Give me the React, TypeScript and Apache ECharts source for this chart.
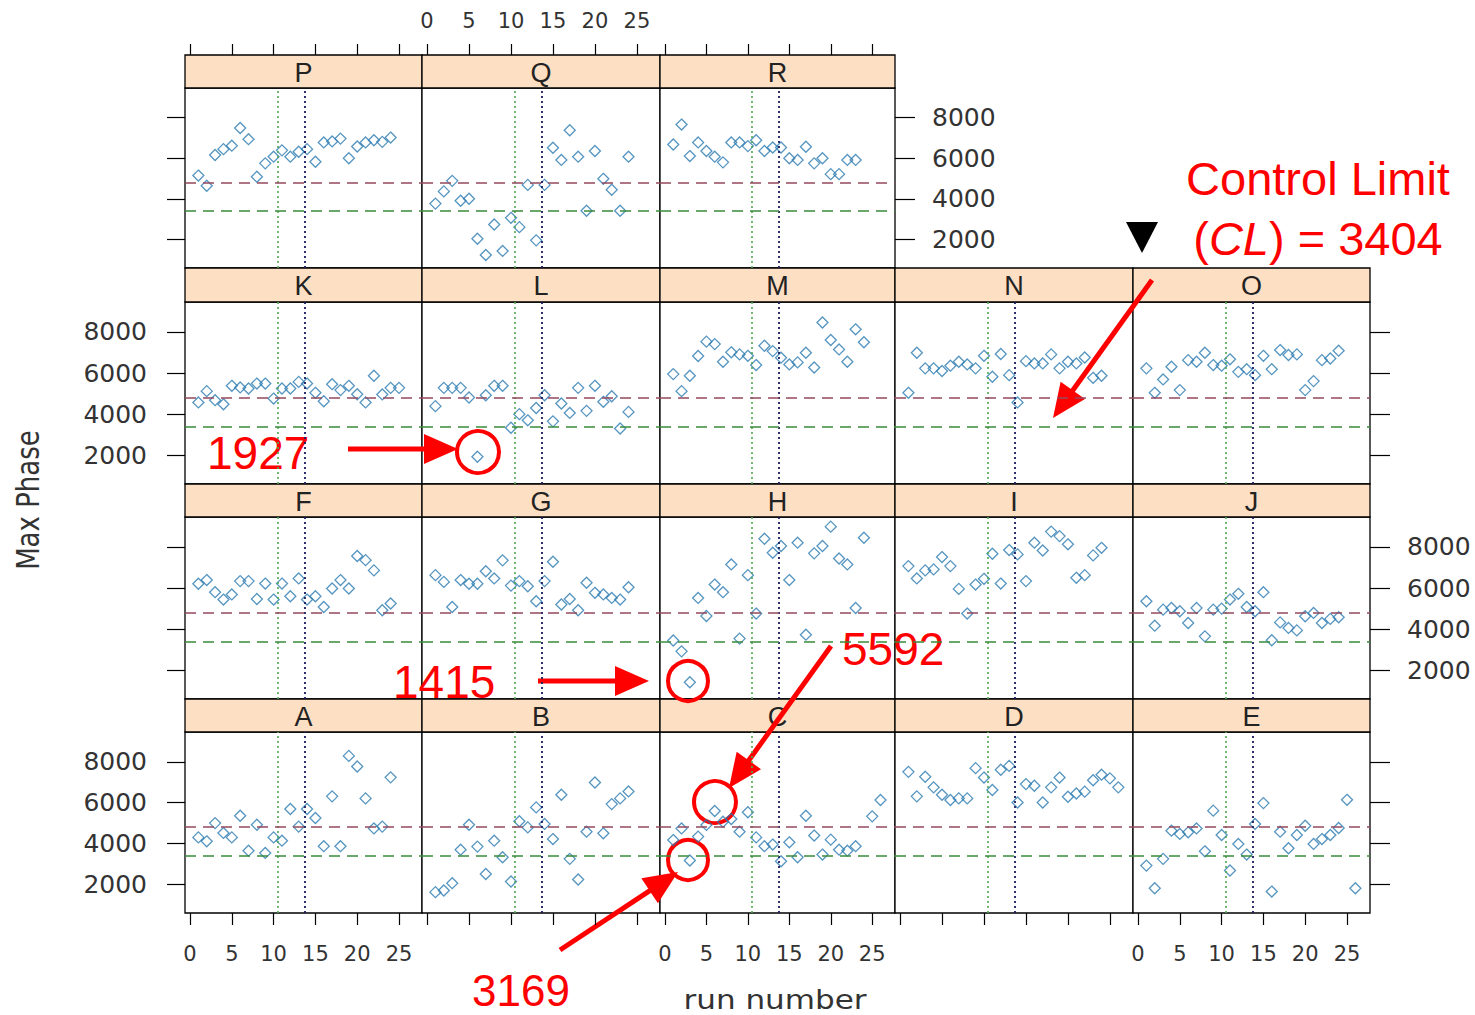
import React, { useEffect, useRef } from "react";
import * as echarts from "echarts";

// ---- data: [run number, max phase] per panel ----
const P: number[][] = [[1,5150],[2,4650],[3,6160],[4,6450],[5,6620],[6,7490],[7,6940],[8,5090],[9,5750],[10,6080],[11,6390],[12,6080],[13,6320],[14,6450],[15,5830],[16,6780],[17,6830],[18,6970],[19,6000],[20,6580],[21,6780],[22,6890],[23,6810],[24,7020]];
const Q: number[][] = [[1,3770],[2,4370],[3,4890],[4,3910],[5,4010],[6,2040],[7,1240],[8,2740],[9,1440],[10,3070],[11,2610],[12,4690],[13,1960],[14,4690],[15,6520],[16,5920],[17,7380],[18,6080],[19,3420],[20,6360],[21,4990],[22,4450],[23,3420],[24,6080]];
const R: number[][] = [[1,6680],[2,7660],[3,6110],[4,6780],[5,6360],[6,6080],[7,5800],[8,6780],[9,6780],[10,6600],[11,6890],[12,6360],[13,6530],[14,6530],[15,6000],[16,5920],[17,6570],[18,5750],[19,6000],[20,5220],[21,5220],[22,5920],[23,5920]];
const K: number[][] = [[1,4570],[2,5120],[3,4680],[4,4480],[5,5380],[6,5300],[7,5250],[8,5490],[9,5490],[10,4760],[11,5250],[12,5250],[13,5570],[14,5490],[15,5040],[16,4630],[17,5460],[18,5170],[19,5380],[20,4970],[21,4570],[22,5870],[23,4960],[24,5280],[25,5280]];
const L: number[][] = [[1,4390],[2,5280],[3,5280],[4,5280],[5,4810],[6,1927],[7,4920],[8,5380],[9,5380],[10,3340],[11,4000],[12,3700],[13,4300],[14,4920],[15,3650],[16,4520],[17,4060],[18,5280],[19,4160],[20,5380],[21,4600],[22,4870],[23,3300],[24,4110]];
const M: number[][] = [[1,5950],[2,5120],[3,5870],[4,6830],[5,7530],[6,7410],[7,6550],[8,7010],[9,6910],[10,6840],[11,6390],[12,7330],[13,7070],[14,6750],[15,6420],[16,6520],[17,6990],[18,6270],[19,8460],[20,7610],[21,7150],[22,6550],[23,8130],[24,7500]];
const N: number[][] = [[1,5040],[2,6990],[3,6230],[4,6230],[5,6100],[6,6360],[7,6550],[8,6420],[9,6230],[10,6840],[11,5820],[12,6930],[13,5900],[14,4570],[15,6580],[16,6470],[17,6470],[18,6910],[19,6230],[20,6550],[21,6470],[22,6760],[23,5770],[24,5870]];
const O: number[][] = [[1,6230],[2,5040],[3,5690],[4,6310],[5,5170],[6,6630],[7,6550],[8,6990],[9,6390],[10,6360],[11,6670],[12,6060],[13,6190],[14,5900],[15,6840],[16,6190],[17,7120],[18,6880],[19,6910],[20,5170],[21,5610],[22,6630],[23,6710],[24,7090]];
const F: number[][] = [[1,6210],[2,6390],[3,5800],[4,5440],[5,5690],[6,6340],[7,6340],[8,5470],[9,6220],[10,5440],[11,6220],[12,5600],[13,6470],[14,5440],[15,5600],[16,5080],[17,5980],[18,6390],[19,5980],[20,7560],[21,7360],[22,6860],[23,4920],[24,5250]];
const G: number[][] = [[1,6630],[2,6300],[3,5080],[4,6390],[5,6210],[6,6210],[7,6820],[8,6470],[9,7350],[10,6120],[11,6340],[12,6090],[13,5360],[14,6340],[15,7280],[16,5200],[17,5470],[18,4920],[19,6260],[20,5770],[21,5690],[22,5520],[23,5440],[24,6040]];
const H: number[][] = [[1,3450],[2,2920],[3,1415],[4,5520],[5,4640],[6,6170],[7,5800],[8,7150],[9,3540],[10,6630],[11,4760],[12,8400],[13,7720],[14,8050],[15,6390],[16,8210],[17,3730],[18,7690],[19,8050],[20,8990],[21,7440],[22,7150],[23,5030],[24,8450]];
const I: number[][] = [[1,7070],[2,6470],[3,6860],[4,6910],[5,7510],[6,7070],[7,5960],[8,4760],[9,6170],[10,6450],[11,7670],[12,6220],[13,7850],[14,7640],[15,6340],[16,8210],[17,7830],[18,8750],[19,8530],[20,8130],[21,6500],[22,6630],[23,7590],[24,7960]];
const J: number[][] = [[1,5360],[2,4170],[3,4950],[4,5030],[5,4870],[6,4300],[7,5030],[8,3650],[9,4950],[10,5000],[11,5440],[12,5720],[13,5080],[14,4870],[15,5800],[16,3460],[17,4330],[18,4060],[19,3940],[20,4630],[21,4790],[22,4300],[23,4500],[24,4580]];
const A: number[][] = [[1,4300],[2,4110],[3,5000],[4,4520],[5,4300],[6,5360],[7,3650],[8,4920],[9,3540],[10,4300],[11,4140],[12,5690],[13,4830],[14,5690],[15,5250],[16,3870],[17,6310],[18,3870],[19,8290],[20,7770],[21,6210],[22,4740],[23,4830],[24,7240]];
const B: number[][] = [[1,1620],[2,1700],[3,2060],[4,3700],[5,4920],[6,3850],[7,2510],[8,4140],[9,3330],[10,2140],[11,5090],[12,4790],[13,5770],[14,4960],[15,4220],[16,6390],[17,3250],[18,2240],[19,4580],[20,6990],[21,4500],[22,5930],[23,6210],[24,6550]];
const C: number[][] = [[1,4170],[2,4740],[3,3169],[4,4340],[5,4910],[6,5592],[7,5070],[8,5200],[9,4580],[10,5530],[11,4300],[12,3870],[13,3950],[14,3130],[15,4060],[16,3330],[17,5360],[18,4390],[19,3460],[20,4190],[21,3700],[22,3650],[23,3870],[25,5330],[26,6130]];
const D: number[][] = [[1,7510],[2,6310],[3,7270],[4,6750],[5,6390],[6,6130],[7,6210],[8,6210],[9,7690],[10,7230],[11,6620],[12,7610],[13,7800],[14,6010],[15,6910],[16,6830],[17,6010],[18,6750],[19,7230],[20,6290],[21,6450],[22,6540],[23,7100],[24,7370],[25,7190],[26,6750]];
const E: number[][] = [[1,2920],[2,1810],[3,3250],[4,4630],[5,4470],[6,4550],[7,4740],[8,3620],[9,5610],[10,4420],[11,2680],[12,3980],[13,3460],[14,4960],[15,5980],[16,1650],[17,4580],[18,3770],[19,4420],[20,4870],[21,3980],[22,4220],[23,4420],[24,4760],[25,6140],[26,1810]];

const X_TICKS = [0, 5, 10, 15, 20, 25];
const Y_TICKS = [2000, 4000, 6000, 8000];
const RUN_GREEN = 10.5;
const RUN_BLUE = 13.7;
const UPPER_REF = 4800;
const CONTROL_LIMIT = 3404;

const PANELS = [
  { name: "P", row: 0, col: 0, data: P }, { name: "Q", row: 0, col: 1, data: Q }, { name: "R", row: 0, col: 2, data: R },
  { name: "K", row: 1, col: 0, data: K }, { name: "L", row: 1, col: 1, data: L }, { name: "M", row: 1, col: 2, data: M },
  { name: "N", row: 1, col: 3, data: N }, { name: "O", row: 1, col: 4, data: O },
  { name: "F", row: 2, col: 0, data: F }, { name: "G", row: 2, col: 1, data: G }, { name: "H", row: 2, col: 2, data: H },
  { name: "I", row: 2, col: 3, data: I }, { name: "J", row: 2, col: 4, data: J },
  { name: "A", row: 3, col: 0, data: A }, { name: "B", row: 3, col: 1, data: B }, { name: "C", row: 3, col: 2, data: C },
  { name: "D", row: 3, col: 3, data: D }, { name: "E", row: 3, col: 4, data: E },
];

// ---- layout ----
const COL_EDGES = [185, 422, 660, 895, 1133, 1370];
const STRIP_TOP = [55, 268, 484, 699];
const PANEL_TOP = [88, 302, 517, 732];
const PANEL_BOTTOM = [268, 484, 699, 913];
const X_MIN = -0.6, X_MAX = 27.75, Y_MIN = 600, Y_MAX = 9460;
const PT_COLOR = "#2A7AB0";
const AX_FONT = "DejaVu Sans";
const RED = "#FF0000";
const plain = (v: number) => String(v);

function arrow(x1: number, y1: number, x2: number, y2: number) {
  const dx = x2 - x1, dy = y2 - y1, len = Math.hypot(dx, dy);
  const ux = dx / len, uy = dy / len, nx = -uy, ny = ux;
  const hl = 34, hw = 15;
  const bx = x2 - ux * hl, by = y2 - uy * hl;
  return [
    { type: "line", shape: { x1, y1, x2: bx + ux * 3, y2: by + uy * 3 }, style: { stroke: RED, lineWidth: 5 } },
    { type: "polygon", shape: { points: [[x2, y2], [bx + nx * hw, by + ny * hw], [bx - nx * hw, by - ny * hw]] }, style: { fill: RED } },
  ];
}
function ring(cx: number, cy: number, r: number) {
  return { type: "circle", shape: { cx, cy, r }, style: { fill: "none", stroke: RED, lineWidth: 4 } };
}
function redText(text: string, x: number, y: number, size = 46, align = "left") {
  return { type: "text", x, y, style: { text, fill: RED, fontSize: size, fontFamily: "Liberation Sans", align, textAlign: align, verticalAlign: "middle", textVerticalAlign: "middle" } };
}

export default function App() {
  const ref = useRef<HTMLDivElement>(null);
  useEffect(() => {
    document.body.style.margin = "0";
    const chart = echarts.init(ref.current!, null, { renderer: "svg" });
    const grids: any[] = [], xAxes: any[] = [], yAxes: any[] = [], series: any[] = [], graphics: any[] = [];
    const tickLine = { color: "#000", width: 1.2 };
    const noLine = { show: false, onZero: false };
    const lastCol = (row: number) => (row === 0 ? 2 : 4);

    PANELS.forEach((p, i) => {
      const left = COL_EDGES[p.col], width = COL_EDGES[p.col + 1] - left;
      grids.push({ left, top: PANEL_TOP[p.row], width, height: PANEL_BOTTOM[p.row] - PANEL_TOP[p.row], show: true, borderColor: "#000", borderWidth: 1.3, backgroundColor: "#fff" });
      const bottomRow = p.row === 3;
      xAxes.push({
        gridIndex: i, type: "value", position: "bottom", min: X_MIN, max: X_MAX,
        axisLine: noLine, splitLine: { show: false },
        axisTick: { show: bottomRow, length: 12, customValues: X_TICKS, lineStyle: tickLine },
        axisLabel: { show: bottomRow && p.col % 2 === 0, customValues: X_TICKS, margin: 30, fontSize: 21, color: "#333", fontFamily: AX_FONT, formatter: plain },
      });
      const leftCol = p.col === 0;
      yAxes.push({
        gridIndex: i, type: "value", position: "left", min: Y_MIN, max: Y_MAX,
        axisLine: noLine, splitLine: { show: false },
        axisTick: { show: leftCol, length: 18, customValues: Y_TICKS, lineStyle: tickLine },
        axisLabel: { show: leftCol && p.row % 2 === 1, customValues: Y_TICKS, margin: 38, fontSize: 25, color: "#333", fontFamily: AX_FONT, formatter: plain },
      });
      series.push({
        type: "scatter", name: p.name, xAxisIndex: i, yAxisIndex: i, data: p.data,
        symbol: "diamond", symbolSize: 11,
        itemStyle: { color: "rgba(255,255,255,0)", borderColor: PT_COLOR, borderWidth: 1.3 },
        markLine: {
          silent: true, symbol: ["none", "none"], label: { show: false }, animation: false,
          data: [
            { xAxis: RUN_GREEN, lineStyle: { color: "#4FA84F", type: [2, 3], width: 1.6 } },
            { xAxis: RUN_BLUE, lineStyle: { color: "#1A1A60", type: [2, 3], width: 1.8 } },
            { yAxis: UPPER_REF, lineStyle: { color: "#94485E", type: [11, 7], width: 1.6 } },
            { yAxis: CONTROL_LIMIT, lineStyle: { color: "#3A8A3A", type: [11, 7], width: 1.6 } },
          ],
        },
      });
      // strip
      graphics.push({ type: "rect", shape: { x: left, y: STRIP_TOP[p.row], width, height: PANEL_TOP[p.row] - STRIP_TOP[p.row] }, style: { fill: "#FDDFC4", stroke: "#000", lineWidth: 1.3 } });
      graphics.push({ type: "text", x: left + width / 2, y: (STRIP_TOP[p.row] + PANEL_TOP[p.row]) / 2 + 1, style: { text: p.name, fill: "#222", fontSize: 27, fontFamily: "Liberation Sans", align: "center", textAlign: "center", verticalAlign: "middle", textVerticalAlign: "middle" } });
    });

    // extra top x axes (row 0) and right y axes (last column of each row)
    PANELS.forEach((p, i) => {
      if (p.row === 0) {
        xAxes.push({
          gridIndex: i, type: "value", position: "top", offset: PANEL_TOP[0] - STRIP_TOP[0], min: X_MIN, max: X_MAX,
          axisLine: noLine, splitLine: { show: false },
          axisTick: { show: true, length: 11, customValues: X_TICKS, lineStyle: tickLine },
          axisLabel: { show: p.col === 1, customValues: X_TICKS, margin: 24, fontSize: 21, color: "#333", fontFamily: AX_FONT, formatter: plain },
        });
      }
      if (p.col === lastCol(p.row)) {
        yAxes.push({
          gridIndex: i, type: "value", position: "right", min: Y_MIN, max: Y_MAX,
          axisLine: noLine, splitLine: { show: false },
          axisTick: { show: true, length: 20, customValues: Y_TICKS, lineStyle: tickLine },
          axisLabel: { show: p.row % 2 === 0, customValues: Y_TICKS, margin: 37, fontSize: 25, color: "#333", fontFamily: AX_FONT, formatter: plain },
        });
      }
    });

    // axis titles
    graphics.push({ type: "text", x: 28, y: 500, rotation: Math.PI / 2, scaleY: 1.25, style: { text: "Max Phase", fill: "#333", fontSize: 26, fontFamily: AX_FONT, align: "center", textAlign: "center", verticalAlign: "middle", textVerticalAlign: "middle" } });
    graphics.push({ type: "text", x: 775, y: 1000, scaleX: 1.15, style: { text: "run number", fill: "#333", fontSize: 27, fontFamily: AX_FONT, align: "center", textAlign: "center", verticalAlign: "middle", textVerticalAlign: "middle" } });

    // annotations
    graphics.push(redText("Control Limit", 1318, 178, 47, "center"));
    graphics.push({
      type: "text", x: 1318, y: 238,
      style: {
        text: "{n|(}{i|CL}{n|) = 3404}", fill: RED, fontSize: 47, fontFamily: "Liberation Sans", align: "center", textAlign: "center", verticalAlign: "middle", textVerticalAlign: "middle",
        rich: { n: { fill: RED, fontSize: 47, fontFamily: "Liberation Sans" }, i: { fill: RED, fontSize: 47, fontFamily: "Liberation Sans", fontStyle: "italic" } },
      },
    });
    graphics.push({ type: "polygon", shape: { points: [[1126, 222], [1158, 222], [1142, 253]] }, style: { fill: "#000" } });
    graphics.push(...arrow(1152, 280, 1053, 418));

    graphics.push(redText("1927", 207, 453));
    graphics.push(...arrow(348, 449, 458, 449));
    graphics.push(ring(478, 452, 21));

    graphics.push(redText("1415", 393, 682));
    graphics.push(...arrow(538, 681, 649, 681));
    graphics.push(ring(688, 681, 20));

    graphics.push(redText("5592", 842, 649));
    graphics.push(...arrow(831, 646, 729, 788));
    graphics.push(ring(715, 802, 21));

    graphics.push(redText("3169", 472, 990, 44));
    graphics.push(...arrow(560, 950, 678, 872));
    graphics.push(ring(688, 860, 20));

    chart.setOption({
      animation: false,
      backgroundColor: "#fff",
      textStyle: { fontFamily: AX_FONT },
      grid: grids, xAxis: xAxes, yAxis: yAxes, series,
      graphic: { elements: graphics },
    });
    return () => chart.dispose();
  }, []);
  return <div ref={ref} style={{ width: 1475, height: 1015 }} />;
}
